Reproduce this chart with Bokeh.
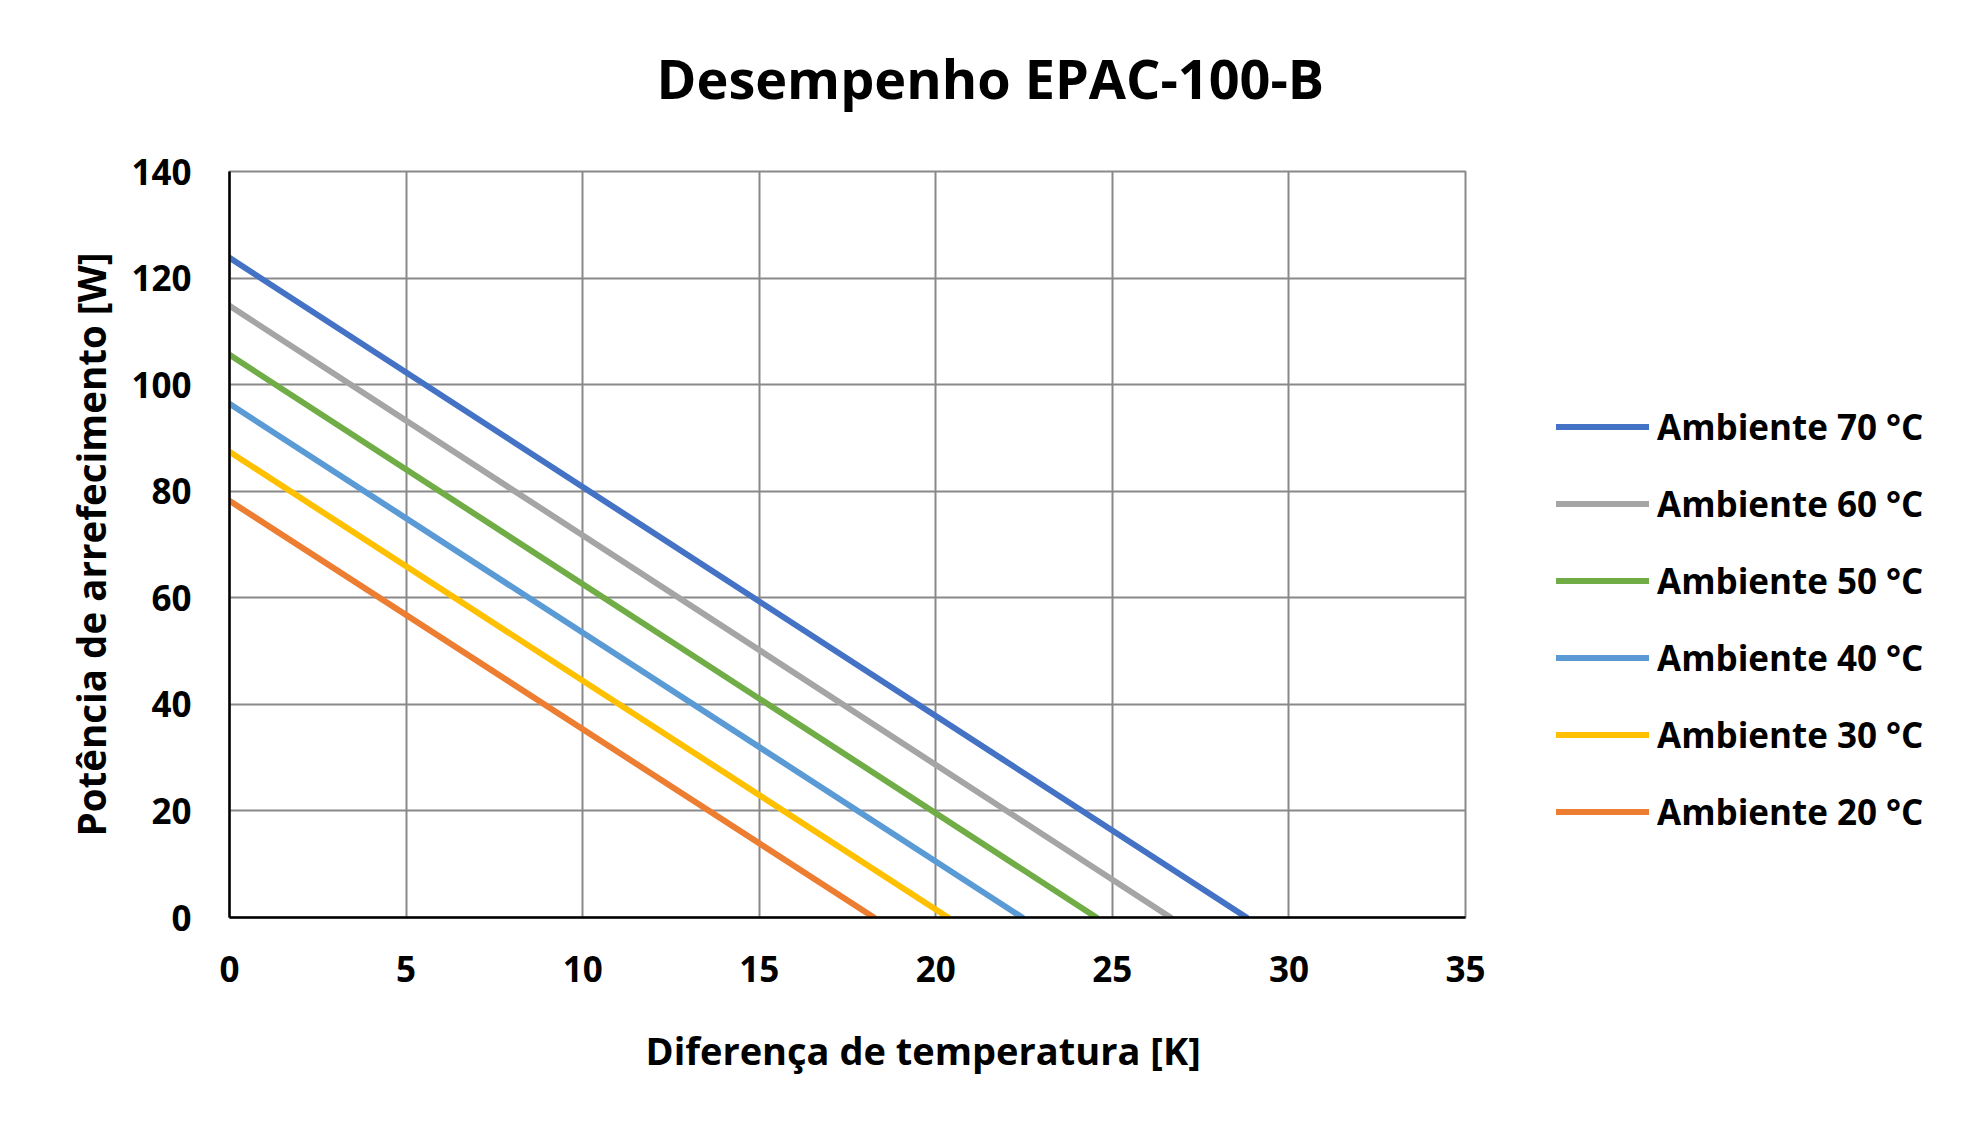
from bokeh.plotting import figure
from bokeh.models import Legend, LegendItem, Range1d, FixedTicker, Title
from bokeh.embed import file_html
from bokeh.resources import INLINE

title = "Desempenho EPAC-100-B"
x_label = "Diferença de temperatura [K]"
y_label = "Potência de arrefecimento [W]"

series_names = ["Ambiente 70 °C", "Ambiente 60 °C", "Ambiente 50 °C",
                "Ambiente 40 °C", "Ambiente 30 °C", "Ambiente 20 °C"]
series_colors = ["#4472C4", "#A5A5A5", "#70AD47", "#5B9BD5", "#FFC000", "#ED7D31"]
# each series: cooling power at dT = 0 and dT where power reaches 0
qmax = [123.8, 114.8, 105.6, 96.4, 87.4, 78.2]
dtmax = [28.8, 26.65, 24.55, 22.45, 20.35, 18.25]

x_ticks = [0, 5, 10, 15, 20, 25, 30, 35]
y_ticks = [0, 20, 40, 60, 80, 100, 120, 140]

FONT = "Open Sans"

p = figure(frame_width=1236, frame_height=746,
           min_border_left=229, min_border_right=504,
           min_border_top=171, min_border_bottom=206,
           x_range=Range1d(0, 35), y_range=Range1d(0, 140),
           output_backend="svg", toolbar_location=None,
           background_fill_color="white", border_fill_color="white")
p.title = None

p.outline_line_color = "#898989"
p.outline_line_width = 2

for ax, ticks in ((p.xaxis, x_ticks), (p.yaxis, y_ticks)):
    ax.ticker = FixedTicker(ticks=ticks)
    ax.axis_line_color = "black"
    ax.axis_line_width = 2.5
    ax.major_tick_line_color = None
    ax.minor_tick_line_color = None
    ax.major_tick_out = 0
    ax.major_tick_in = 0
    ax.major_label_text_font = FONT
    ax.major_label_text_font_style = "bold"
    ax.major_label_text_font_size = "35px"
    ax.major_label_text_color = "black"
p.xaxis.major_label_standoff = 38
p.yaxis.major_label_standoff = 38

for g in (p.xgrid, p.ygrid):
    g.grid_line_color = "#898989"
    g.grid_line_width = 2
p.xgrid.ticker = FixedTicker(ticks=x_ticks)
p.ygrid.ticker = FixedTicker(ticks=y_ticks)

items = []
for name, col, q, dt in zip(series_names, series_colors, qmax, dtmax):
    r = p.line([0, dt], [q, 0], line_color=col, line_width=6, line_cap="round")
    items.append(LegendItem(label=name, renderers=[r]))

legend = Legend(items=items, location=(91, 67),
                glyph_width=93, glyph_height=77, label_height=77,
                spacing=0, padding=0, margin=0, label_standoff=8,
                label_text_font=FONT, label_text_font_style="bold",
                label_text_font_size="35px", label_text_color="black",
                border_line_color=None, background_fill_alpha=0)
p.add_layout(legend, "right")

# white (invisible) spacer between the frame and the chart title
p.add_layout(Title(text=".", standoff=42, text_font=FONT, text_font_size="10px",
                   text_color="white"), "above")
p.add_layout(Title(text=title, align="left", offset=427, standoff=10,
                   text_font=FONT, text_font_style="bold", text_font_size="54px",
                   text_color="black"), "above")
p.add_layout(Title(text=x_label, align="left", offset=416, standoff=74,
                   text_font=FONT, text_font_style="bold", text_font_size="38px",
                   text_color="black"), "below")
p.add_layout(Title(text=y_label, align="center", standoff=24,
                   text_font=FONT, text_font_style="bold", text_font_size="38.5px",
                   text_color="black"), "left")

open("out.html", "w").write(file_html(p, INLINE))
